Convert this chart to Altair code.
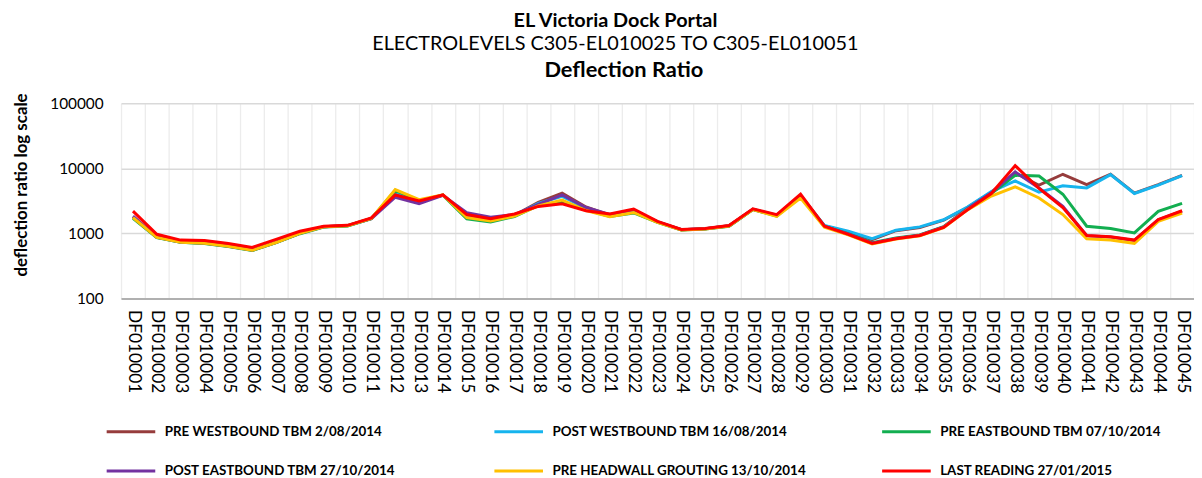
import altair as alt
import pandas as pd

categories = [
    "DF010001", "DF010002", "DF010003", "DF010004", "DF010005", "DF010006", "DF010007",
    "DF010008", "DF010009", "DF010010", "DF010011", "DF010012", "DF010013", "DF010014",
    "DF010015", "DF010016", "DF010017", "DF010018", "DF010019", "DF010020", "DF010021",
    "DF010022", "DF010023", "DF010024", "DF010025", "DF010026", "DF010027", "DF010028",
    "DF010029", "DF010030", "DF010031", "DF010032", "DF010033", "DF010034", "DF010035",
    "DF010036", "DF010037", "DF010038", "DF010039", "DF010040", "DF010041", "DF010042",
    "DF010043", "DF010044", "DF010045",
]

series_names = [
    "PRE WESTBOUND TBM 2/08/2014",
    "POST WESTBOUND TBM 16/08/2014",
    "PRE EASTBOUND TBM 07/10/2014",
    "POST EASTBOUND TBM 27/10/2014",
    "PRE HEADWALL GROUTING 13/10/2014",
    "LAST READING 27/01/2015",
]
series_colors = ["#963C3C", "#16B4EE", "#12AE50", "#7332A0", "#FFC000", "#FF0000"]

pre_westbound = [1800, 880, 740, 710, 640, 555, 730, 1010, 1270, 1320, 1700, 4300, 3000, 3900, 1850,
                 1600, 1900, 3000, 4150, 2550, 1900, 2200, 1500, 1140, 1180, 1310, 2350, 1880, 3800, 1300,
                 1050, 800, 1100, 1230, 1600, 2500, 4300, 8500, 5500, 8100, 5600, 8100, 4150, 5600, 7800]
post_westbound = [1750, 870, 730, 705, 635, 550, 725, 1000, 1260, 1310, 1700, 4400, 3050, 3900, 1800,
                  1580, 1880, 2900, 3700, 2450, 1900, 2150, 1500, 1140, 1180, 1300, 2350, 1900, 3800, 1330,
                  1080, 830, 1120, 1260, 1620, 2550, 4400, 6400, 4300, 5400, 5000, 8000, 4100, 5500, 7700]
pre_eastbound = [1700, 860, 730, 700, 630, 545, 720, 990, 1250, 1300, 1680, 4600, 3200, 3850, 1680,
                 1500, 1820, 2700, 3100, 2300, 1820, 2060, 1480, 1130, 1170, 1290, 2320, 1850, 3700, 1280,
                 990, 720, 850, 950, 1270, 2400, 4100, 7800, 7600, 4000, 1290, 1190, 1020, 2180, 2900]
post_eastbound = [1850, 880, 740, 710, 640, 555, 730, 1010, 1270, 1320, 1690, 3600, 2850, 3850, 2080,
                  1780, 1950, 2800, 3900, 2500, 1950, 2250, 1500, 1140, 1180, 1310, 2350, 1880, 3800, 1280,
                  980, 710, 840, 940, 1260, 2400, 4200, 8800, 5000, 2600, 920, 880, 780, 1620, 2200]
pre_headwall = [1750, 870, 730, 705, 635, 550, 725, 1000, 1260, 1310, 1700, 4700, 3300, 3900, 1750,
                1550, 1850, 2650, 3250, 2250, 1800, 2100, 1480, 1130, 1170, 1300, 2330, 1830, 3480, 1250,
                950, 690, 820, 920, 1230, 2300, 3750, 5200, 3500, 1950, 830, 790, 705, 1530, 2060]
last_reading = [2200, 970, 790, 780, 700, 610, 810, 1080, 1290, 1330, 1730, 3900, 3150, 3900, 1950,
                1680, 1990, 2600, 2850, 2230, 1990, 2370, 1530, 1150, 1190, 1320, 2390, 1940, 4000, 1290,
                970, 700, 830, 930, 1240, 2300, 4100, 11000, 4900, 2500, 930, 890, 790, 1630, 2230]

series_values = [pre_westbound, post_westbound, pre_eastbound, post_eastbound, pre_headwall, last_reading]

rows = []
for name, vals in zip(series_names, series_values):
    for cat, v in zip(categories, vals):
        rows.append({"point": cat, "value": v, "series": name})
df = pd.DataFrame(rows)

FONT = "Lato"

x_enc = alt.X(
    "point:N",
    sort=categories,
    bandPosition=0.5,
    scale=alt.Scale(type="band", paddingInner=0, paddingOuter=0),
    axis=alt.Axis(
        title=None,
        labelAngle=90,
        labelAlign="left",
        labelBaseline="middle",
        labelFont=FONT,
        labelFontSize=17.5,
        labelColor="#000000",
        labelPadding=11,
        tickBand="extent",
        ticks=False,
        grid=True,
        gridColor="#ececec",
        gridWidth=1.3,
        domainColor="#b0b0b0",
        domainWidth=2,
    ),
)
y_enc = alt.Y(
    "value:Q",
    scale=alt.Scale(type="log", domain=[100, 100000]),
    axis=alt.Axis(
        values=[100, 1000, 10000, 100000],
        format="d",
        title="deflection ratio log scale",
        titleFont=FONT,
        titleFontSize=17,
        titleFontWeight="bold",
        titleColor="#000000",
        titlePadding=19,
        titleY=82,
        labelFont=FONT,
        labelFontSize=15.5,
        labelColor="#000000",
        labelPadding=18,
        ticks=False,
        domain=False,
        grid=True,
        gridColor="#d9d9d9",
        gridWidth=1.5,
    ),
)
color_enc = alt.Color(
    "series:N",
    scale=alt.Scale(domain=series_names, range=series_colors),
    legend=alt.Legend(
        title=None,
        orient="none",
        legendX=-16,
        legendY=305,
        columns=3,
        direction="horizontal",
        symbolType="stroke",
        symbolSize=2401,
        symbolStrokeWidth=3,
        labelFont=FONT,
        labelFontSize=13.5,
        labelFontWeight="bold",
        labelColor="#000000",
        labelOffset=8,
        labelLimit=400,
        gridAlign="all",
        columnPadding=69,
        rowPadding=7,
    ),
)

layers = []
for name in series_names:
    layers.append(
        alt.Chart(df)
        .transform_filter(alt.datum.series == name)
        .mark_line(strokeWidth=3)
        .encode(x=x_enc, y=y_enc, color=color_enc)
    )

inner = alt.layer(*layers).properties(
    width=1082,
    height=197,
    title=alt.TitleParams(
        "Deflection Ratio", font=FONT, fontSize=22, fontWeight="bold", color="#000000",
        offset=11, dx=-34,
    ),
)

chart = (
    alt.vconcat(inner)
    .properties(
        title=alt.TitleParams(
            text="EL Victoria Dock Portal",
            subtitle="ELECTROLEVELS C305-EL010025 TO C305-EL010051",
            font=FONT,
            fontSize=20,
            fontWeight="bold",
            color="#000000",
            subtitleFont=FONT,
            subtitleFontSize=20,
            subtitleColor="#000000",
            subtitlePadding=3,
            anchor="middle",
            offset=5,
            dx=12,
        ),
        padding={"left": 5, "top": 1, "right": 0, "bottom": 0},
    )
    .configure_view(stroke=None)
)

chart.save("out.html", embed_options={"renderer": "svg", "actions": False})
